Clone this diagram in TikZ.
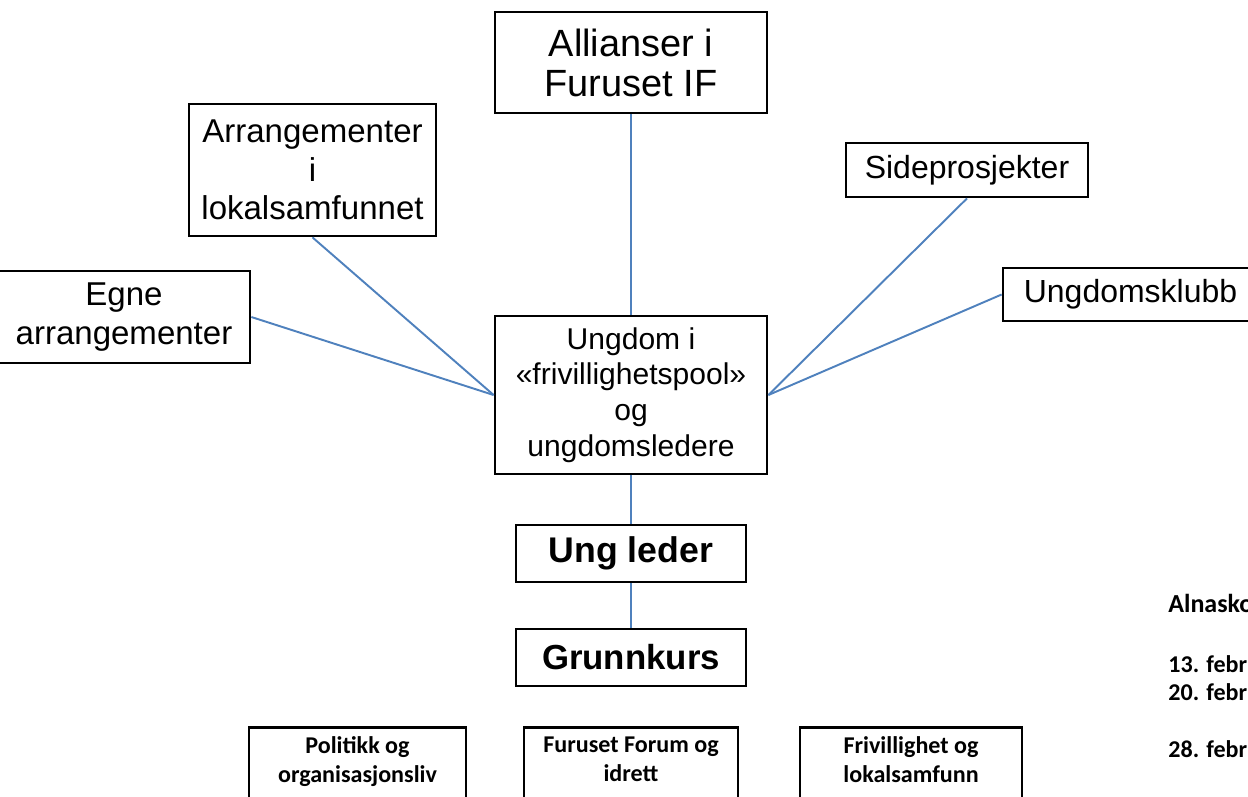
\documentclass[tikz,border=0pt]{standalone}
\usepackage{fontspec}
\setmainfont{Liberation Sans}
\newfontfamily\calibri{Carlito}
\usepackage{tikz}
\usetikzlibrary{positioning}
\definecolor{linjeblaa}{RGB}{79,129,189}

\begin{document}
\begin{tikzpicture}[x=0.02cm, y=-0.02cm,
		boks/.style={draw, line width=1.6pt, align=center, inner sep=0pt},
		smaaboks/.style={boks, anchor=north, inner ysep=0.18cm, text depth=2cm, font=\calibri\bfseries\fontsize{13.7pt}{16.5pt}\selectfont},
		linje/.style={draw=linjeblaa, line width=1.1pt},
		dato/.style={anchor=base west, inner sep=0pt, font=\calibri\bfseries\fontsize{13.7pt}{16pt}\selectfont}]
	\useasboundingbox (0, 0) rectangle (1248, 796);
	\clip (0, 0) rectangle (1248, 796);
	\node[boks, minimum width=5.44cm, minimum height=2.02cm, font=\fontsize{21.6pt}{22.8pt}\selectfont] (allianser) at (631, 62.5) {Allianser i\\Furuset IF};
	\node[boks, minimum width=4.94cm, minimum height=2.64cm, font=\fontsize{18.8pt}{21.9pt}\selectfont] (arrangementer) at (312.5, 170) {Arrangementer\\i\\lokalsamfunnet};
	\node[boks, minimum width=4.84cm, minimum height=1.08cm, font=\fontsize{18.2pt}{21pt}\selectfont] (sideprosjekter) at (967, 170) {Sideprosjekter};
	\node[boks, minimum width=5.04cm, minimum height=1.84cm, font=\fontsize{18.8pt}{22.2pt}\selectfont] (egne) at (124, 317) {Egne\\arrangementer};
	\node[boks, minimum width=5.1cm, minimum height=1.06cm, font=\fontsize{18.2pt}{21pt}\selectfont] (ungdomsklubb) at (1130.5, 294.5) {Ungdomsklubb};
	\node[boks, minimum width=5.44cm, minimum height=3.16cm, font=\fontsize{17.1pt}{20.3pt}\selectfont] (pool) at (631, 395) {Ungdom i\\«frivillighetspool»\\og\\ungdomsledere};
	\node[boks, minimum width=4.6cm, minimum height=1.14cm, font=\bfseries\fontsize{20.3pt}{24pt}\selectfont] (ungleder) at (631, 553.5) {Ung leder};
	\node[boks, minimum width=4.6cm, minimum height=1.14cm, font=\bfseries\fontsize{19.8pt}{24pt}\selectfont] (grunnkurs) at (631, 657.5) {Grunnkurs};
	\node[smaaboks, minimum width=4.34cm] (politikk) at (357.5, 726) {Politikk og\\organisasjonsliv};
	\node[smaaboks, minimum width=4.28cm] (forum) at (631, 726) {Furuset Forum og\\idrett};
	\node[smaaboks, minimum width=4.44cm] (frivillighet) at (911, 726) {Frivillighet og\\lokalsamfunn};
	\node[dato, font=\calibri\bfseries\fontsize{14.8pt}{17pt}\selectfont] (alnasko) at (1168, 612) {Alnasko};
	\node[dato] (dato1) at (1168, 672) {13. febr};
	\node[dato] (dato2) at (1168, 700) {20. febr};
	\node[dato] (dato3) at (1168, 757) {28. febr};
	\draw[linje] (allianser.south) -- (pool.north);
	\draw[linje] (arrangementer.south) -- (pool.west);
	\draw[linje] (egne.east) -- (pool.west);
	\draw[linje] (sideprosjekter.south) -- (pool.east);
	\draw[linje] (ungdomsklubb.west) -- (pool.east);
	\draw[linje] (pool.south) -- (ungleder.north);
	\draw[linje] (ungleder.south) -- (grunnkurs.north);
\end{tikzpicture}
\end{document}
